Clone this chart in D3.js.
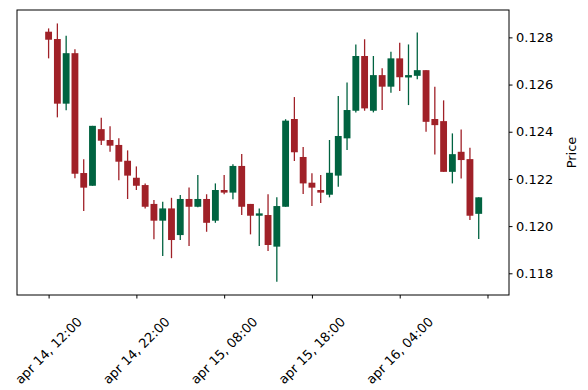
<!DOCTYPE html>
<html>
<head>
<meta charset="utf-8">
<script src="https://cdn.jsdelivr.net/npm/d3@7"></script>
<style>
  body { margin: 0; background: white; }
  text { font-family: "DejaVu Sans", sans-serif; }
</style>
</head>
<body>
<div id="chart"></div>
<script>
// hourly candles, apr 14 12:00 -> apr 16 13:00
const opens = [0.12824, 0.12793, 0.12519, 0.12733, 0.12225, 0.12171, 0.12411, 0.12365, 0.12344, 0.12277,
  0.12205, 0.12174, 0.12094, 0.12023, 0.12075, 0.11962, 0.12115, 0.12082, 0.12115, 0.12023,
  0.12153, 0.12142, 0.12255, 0.12094, 0.12044, 0.12047, 0.11913, 0.12082, 0.12454, 0.12293,
  0.12184, 0.12153, 0.12133, 0.12214, 0.12372, 0.12489, 0.12721, 0.12489, 0.12640, 0.12591,
  0.12711, 0.12630, 0.12637, 0.12661, 0.12454, 0.12445, 0.12230, 0.12315, 0.12284, 0.12052];
const highs = [0.12838, 0.12859, 0.12807, 0.12750, 0.12283, 0.12425, 0.12459, 0.12423, 0.12372, 0.12321,
  0.12253, 0.12181, 0.12111, 0.12103, 0.12120, 0.12132, 0.12164, 0.12217, 0.12135, 0.12181,
  0.12217, 0.12262, 0.12306, 0.12094, 0.12075, 0.12135, 0.12122, 0.12453, 0.12547, 0.12335,
  0.12224, 0.12217, 0.12365, 0.12551, 0.12609, 0.12770, 0.12792, 0.12721, 0.12669, 0.12739,
  0.12777, 0.12770, 0.12821, 0.12661, 0.12591, 0.12533, 0.12393, 0.12410, 0.12332, 0.12122];
const lows = [0.12711, 0.12461, 0.12491, 0.12203, 0.12064, 0.12171, 0.12344, 0.12315, 0.12194, 0.12115,
  0.12153, 0.12075, 0.11944, 0.11873, 0.11864, 0.11941, 0.11916, 0.12080, 0.11976, 0.12014,
  0.12135, 0.12114, 0.12047, 0.11965, 0.11916, 0.11895, 0.11764, 0.12082, 0.12276, 0.12136,
  0.12085, 0.12098, 0.12122, 0.12167, 0.12323, 0.12482, 0.12489, 0.12482, 0.12492, 0.12565,
  0.12573, 0.12513, 0.12623, 0.12400, 0.12304, 0.12230, 0.12181, 0.12202, 0.12026, 0.11945];
const closes = [0.12790, 0.12519, 0.12733, 0.12222, 0.12163, 0.12425, 0.12362, 0.12341, 0.12273, 0.12214,
  0.12171, 0.12082, 0.12023, 0.12075, 0.11941, 0.12115, 0.12082, 0.12115, 0.12014, 0.12153,
  0.12142, 0.12255, 0.12082, 0.12044, 0.12054, 0.11920, 0.12085, 0.12447, 0.12313, 0.12181,
  0.12163, 0.12142, 0.12226, 0.12382, 0.12492, 0.12721, 0.12499, 0.12640, 0.12591, 0.12711,
  0.12631, 0.12640, 0.12661, 0.12442, 0.12428, 0.12230, 0.12305, 0.12280, 0.12044, 0.12122];

const xTickIdx = [0, 10, 20, 30, 40, 50];
const xTickLabels = ["apr 14, 12:00", "apr 14, 22:00", "apr 15, 08:00", "apr 15, 18:00", "apr 16, 04:00", ""];
const yTicks = [0.118, 0.120, 0.122, 0.124, 0.126, 0.128];

const W = 588, H = 390;
const plotL = 17, plotR = 509, plotT = 10, plotB = 295;
const upColor = "#006340", downColor = "#a02128";
const fontSize = "13px";

const candles = opens.map((o, i) => ({ i, o, h: highs[i], l: lows[i], c: closes[i] }));

const svg = d3.select("#chart").append("svg")
  .attr("width", W)
  .attr("height", H)
  .style("background", "white");

const x = d3.scaleLinear().domain([-3.6, 52.45]).range([plotL, plotR]);
const y = d3.scaleLinear().domain([0.11708, 0.12916]).range([plotB, plotT]);

const step = x(1) - x(0);
const bodyW = step * 0.78;

const g = svg.append("g");

// wicks
g.selectAll("line.wick")
  .data(candles)
  .join("line")
    .attr("class", "wick")
    .attr("x1", d => x(d.i))
    .attr("x2", d => x(d.i))
    .attr("y1", d => y(d.h))
    .attr("y2", d => y(d.l))
    .attr("stroke", d => d.c >= d.o ? upColor : downColor)
    .attr("stroke-width", 1.3);

// bodies
g.selectAll("rect.body")
  .data(candles)
  .join("rect")
    .attr("class", "body")
    .attr("x", d => x(d.i) - bodyW / 2)
    .attr("width", bodyW)
    .attr("y", d => y(Math.max(d.o, d.c)))
    .attr("height", d => Math.max(1, Math.abs(y(d.o) - y(d.c))))
    .attr("fill", d => d.c >= d.o ? upColor : downColor);

// frame
svg.append("rect")
  .attr("x", plotL)
  .attr("y", plotT)
  .attr("width", plotR - plotL)
  .attr("height", plotB - plotT)
  .attr("fill", "none")
  .attr("stroke", "black")
  .attr("stroke-width", 1);

// x axis
const xAxis = d3.axisBottom(x)
  .tickValues(xTickIdx)
  .tickSize(3.5)
  .tickFormat("");
svg.append("g")
  .attr("transform", `translate(0,${plotB})`)
  .call(xAxis)
  .call(a => a.select(".domain").remove())
  .call(a => a.selectAll(".tick line").attr("stroke", "black"));

svg.append("g")
  .selectAll("text")
  .data(xTickIdx)
  .join("text")
    .attr("transform", d => `translate(${x(d)},350.5) rotate(-45)`)
    .attr("text-anchor", "middle")
    .attr("dominant-baseline", "central")
    .style("font-size", fontSize)
    .attr("fill", "black")
    .text((d, k) => xTickLabels[k]);

// y axis on the right
const yAxis = d3.axisRight(y)
  .tickValues(yTicks)
  .tickSize(3.5)
  .tickPadding(3.5)
  .tickFormat(d3.format(".3f"));
svg.append("g")
  .attr("transform", `translate(${plotR},0)`)
  .call(yAxis)
  .call(a => a.select(".domain").remove())
  .call(a => a.selectAll(".tick line").attr("stroke", "black"))
  .call(a => a.selectAll(".tick text")
    .attr("fill", "black")
    .style("font-size", fontSize)
    .style("font-family", "DejaVu Sans, sans-serif"));

svg.append("text")
  .attr("transform", `translate(571,${(plotT + plotB) / 2}) rotate(-90)`)
  .attr("text-anchor", "middle")
  .attr("dominant-baseline", "central")
  .style("font-size", fontSize)
  .text("Price");
</script>
</body>
</html>
